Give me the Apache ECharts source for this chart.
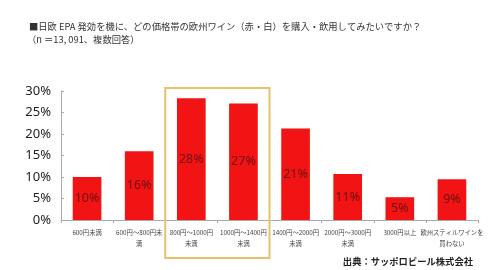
<!DOCTYPE html>
<html><head><meta charset="utf-8">
<script src="https://cdn.jsdelivr.net/npm/echarts@6/dist/echarts.min.js"></script>
<style>html,body{margin:0;padding:0;background:#fff}#c{width:500px;height:270px}</style>
</head><body><div id="c"></div>
<script>
var categories = ['600円未満', '600円～800円未\n満', '800円～1000円\n未満', '1000円～1400円\n未満', '1400円～2000円\n未満', '2000円～3000円\n未満', '3000円以上', '欧州スティルワインを\n買わない'];
var values = [10, 16, 28.3, 27.1, 21.3, 10.7, 5.3, 9.5];
var barLabels = ['10%', '16%', '28%', '27%', '21%', '11%', '5%', '9%'];
var titleLine1 = '■日欧 EPA 発効を機に、どの価格帯の欧州ワイン（赤・白）を購入・飲用してみたいですか？';
var titleLine2 = '（n ＝13, 091、複数回答）';
var sourceText = '出典：サッポロビール株式会社';
var highlighted = [2, 3];

var chart = echarts.init(document.getElementById('c'), null, {renderer: 'canvas'});
var cjk = '"Noto Sans CJK JP", sans-serif';
chart.setOption({
  animation: false,
  backgroundColor: '#fff',
  title: [
    {text: titleLine1, left: 24, top: 17, textStyle: {fontFamily: cjk, fontSize: 9.3, fontWeight: 'normal', color: '#333'}},
    {text: titleLine2, left: 22, top: 30, textStyle: {fontFamily: cjk, fontSize: 9.3, fontWeight: 'normal', color: '#333'}},
    {text: sourceText, right: 22, top: 252, textStyle: {fontFamily: cjk, fontSize: 9.3, fontWeight: 'bold', color: '#222'}}
  ],
  grid: {left: 61, right: 22, top: 91, bottom: 50},
  xAxis: {
    type: 'category', data: categories,
    axisLine: {lineStyle: {color: '#aaa'}},
    axisTick: {show: true, length: 3, lineStyle: {color: '#aaa'}},
    axisLabel: {interval: 0, fontFamily: cjk, fontSize: 6.3, color: '#444', lineHeight: 11, margin: 7}
  },
  yAxis: {
    type: 'value', min: 0, max: 30, interval: 5,
    splitLine: {show: false},
    axisLine: {show: true, lineStyle: {color: '#aaa'}},
    axisTick: {show: true, inside: true, length: 3, lineStyle: {color: '#aaa'}},
    axisLabel: {formatter: function (v) { return v + '%'; }, fontFamily: '"Noto Sans", sans-serif', fontSize: 13, color: '#222', margin: 10}
  },
  series: [{
    type: 'bar', data: values, barWidth: '55%',
    itemStyle: {color: '#f21414'},
    label: {show: true, position: 'inside', formatter: function (p) { return barLabels[p.dataIndex]; },
      fontFamily: '"Noto Sans", sans-serif', fontSize: 12.5, color: '#6e1010'}
  }]
});

function drawBox() {
  var c0 = chart.convertToPixel({xAxisIndex: 0}, highlighted[0]);
  var c1 = chart.convertToPixel({xAxisIndex: 0}, highlighted[1]);
  var band = c1 - c0;
  var top = chart.convertToPixel({yAxisIndex: 0}, 30) - 3;
  chart.setOption({graphic: [{
    type: 'rect', shape: {x: c0 - band / 2, y: top, width: band * 2, height: 258 - top},
    style: {fill: 'none', stroke: '#e6c168', lineWidth: 2}, z: 10
  }]});
}
drawBox();
</script></body></html>
